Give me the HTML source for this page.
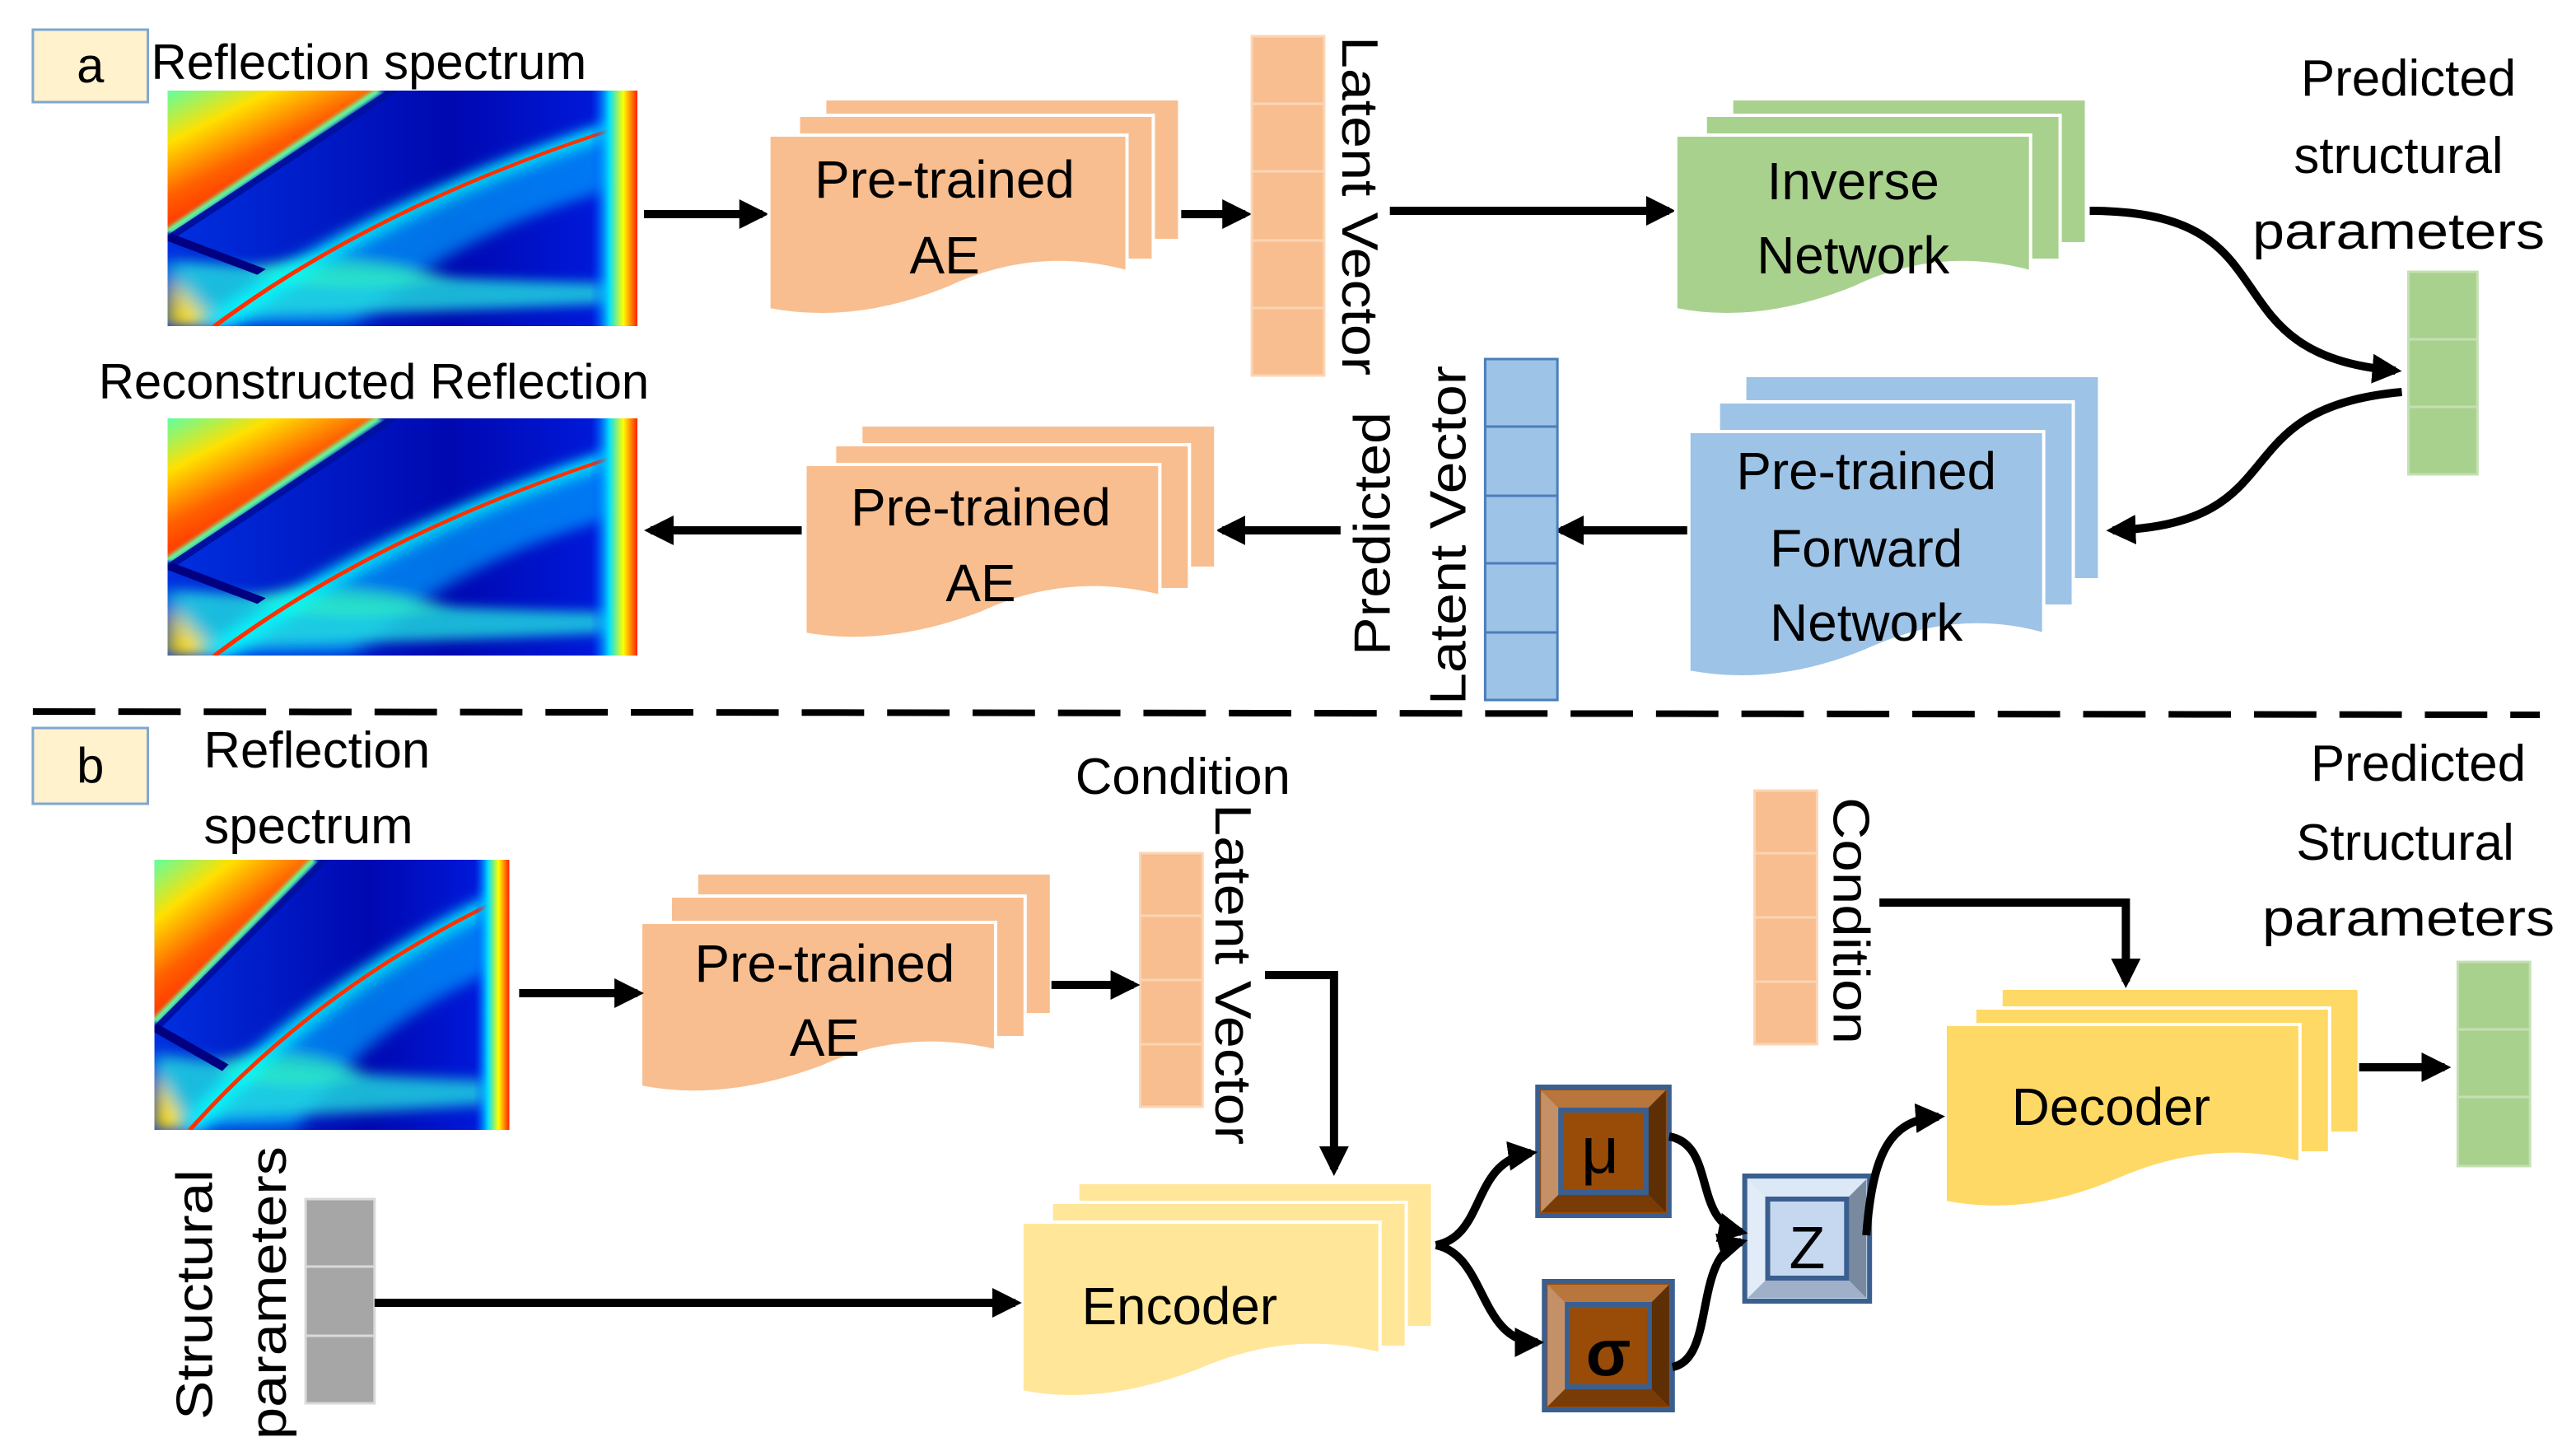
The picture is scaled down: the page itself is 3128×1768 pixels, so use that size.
<!DOCTYPE html>
<html><head><meta charset="utf-8"><style>
html,body{margin:0;padding:0;background:#fff}
svg{display:block}
text{font-family:"Liberation Sans","DejaVu Sans",sans-serif;fill:#000}
</style></head><body>
<svg width="3128" height="1768" viewBox="0 0 1568 884" preserveAspectRatio="none" xmlns="http://www.w3.org/2000/svg">
<defs>
<marker id="ah" markerWidth="20" markerHeight="20" refX="14" refY="9" orient="auto" markerUnits="userSpaceOnUse"><path d="M0,0 L18,9 L0,18 z" fill="#000"/></marker>
<filter id="bl" x="-20%" y="-20%" width="140%" height="140%"><feGaussianBlur stdDeviation="2.5"/></filter>
<filter id="bl2"><feGaussianBlur stdDeviation="0.6"/></filter>
<linearGradient id="base" x1="0" y1="0" x2="1" y2="0"><stop offset="0" stop-color="#0030e0"/><stop offset="0.6" stop-color="#0008b0"/><stop offset="0.9" stop-color="#0018d8"/><stop offset="1" stop-color="#0040ff"/></linearGradient>
<linearGradient id="hot" x1="0" y1="0" x2="0.6" y2="0.8"><stop offset="0" stop-color="#60ffa0"/><stop offset="0.3" stop-color="#ffe000"/><stop offset="0.6" stop-color="#ff6000"/><stop offset="0.9" stop-color="#ff2000"/><stop offset="1" stop-color="#ff3000"/></linearGradient>
<linearGradient id="edge" x1="0" y1="0" x2="1" y2="0"><stop offset="0" stop-color="#0040ff" stop-opacity="0"/><stop offset="0.4" stop-color="#00e0ff"/><stop offset="0.7" stop-color="#ffff00"/><stop offset="1" stop-color="#ff2000"/></linearGradient>
<symbol id="spec" viewBox="0 0 100 100" preserveAspectRatio="none">
<rect width="100" height="100" fill="url(#base)"/>
<g filter="url(#bl)">
<path d="M5,100 Q40,55 98,14 L98,40 Q60,60 40,100 z" fill="#00a0ff" opacity="0.7"/>
<path d="M0,72 Q50,80 98,82 L98,90 Q50,95 0,96 z" fill="#20e0e0" opacity="0.8"/>
<path d="M18,75 Q40,65 60,80 Q40,86 20,80z" fill="#30f0c0" opacity="0.7"/>
<path d="M0,78 L10,100 L0,100z" fill="#ffe000"/>
</g>
<polygon points="0,0 45,0 0,60" fill="url(#hot)"/>
<path d="M0,60 L45,0" stroke="#60ffa0" stroke-width="2" filter="url(#bl2)"/>
<path d="M0,63 L48,0" stroke="#0010a0" stroke-width="2"/>
<path d="M10,100 Q45,48 97,15" stroke="#00ffff" stroke-width="5" fill="none" filter="url(#bl)"/>
<path d="M10,100 Q45,48 97,15" stroke="#ff3000" stroke-width="1.3" fill="none"/>
<path d="M0,62 L20,77" stroke="#000080" stroke-width="3"/>
<rect x="90" y="0" width="10" height="100" fill="url(#edge)"/>
</symbol>
</defs>

<rect x="20" y="18" width="70" height="44" fill="#FFF2CC" stroke="#7FA7D0" stroke-width="1.5"/>
<text x="55" y="50" font-size="30" text-anchor="middle">a</text>
<text x="92" y="48" font-size="30">Reflection spectrum</text>
<use href="#spec" x="102" y="55" width="286" height="143"/>
<text x="60" y="242" font-size="30">Reconstructed Reflection</text>
<use href="#spec" x="102" y="254" width="286" height="144"/>

<g stroke="#000" stroke-width="5" fill="none">
<line x1="392" y1="130" x2="464" y2="130" marker-end="url(#ah)"/>
<line x1="716" y1="130" x2="758" y2="130" marker-end="url(#ah)"/>
<line x1="846" y1="128" x2="1016" y2="128" marker-end="url(#ah)"/>
<line x1="1028" y1="322" x2="950" y2="322" marker-end="url(#ah)"/>
<line x1="816" y1="322" x2="744" y2="322" marker-end="url(#ah)"/>
<line x1="488" y1="322" x2="396" y2="322" marker-end="url(#ah)"/>
<path d="M1272,128 C1400,128 1340,215 1458,225" marker-end="url(#ah)"/>
<path d="M1462,238 C1350,248 1400,318 1286,322" marker-end="url(#ah)"/>
</g>

<g fill="#F8BE8F" stroke="#fff" stroke-width="2">
<path d="M502,60 H718 V146 H502z"/>
<path d="M486,70 H702 V158 H486z"/>
<path d="M468,82 H686 V165 Q630,150 577,175 Q520,198 468,188 z"/>
</g>
<text x="575" y="120" font-size="32" text-anchor="middle">Pre-trained</text>
<text x="575" y="166" font-size="32" text-anchor="middle">AE</text>

<g fill="#F8BE8F" stroke="#fff" stroke-width="2">
<path d="M524,258 H740 V345 H524z"/>
<path d="M508,270 H724 V358 H508z"/>
<path d="M490,282 H706 V362 Q650,348 598,372 Q540,394 490,385 z"/>
</g>
<text x="597" y="319" font-size="32" text-anchor="middle">Pre-trained</text>
<text x="597" y="365" font-size="32" text-anchor="middle">AE</text>

<g fill="#A9D18E" stroke="#fff" stroke-width="2">
<path d="M1054,60 H1270 V148 H1054z"/>
<path d="M1038,70 H1254 V158 H1038z"/>
<path d="M1020,82 H1236 V165 Q1180,150 1128,175 Q1070,198 1020,188 z"/>
</g>
<text x="1128" y="121" font-size="32" text-anchor="middle">Inverse</text>
<text x="1128" y="166" font-size="32" text-anchor="middle">Network</text>

<g fill="#9DC3E6" stroke="#fff" stroke-width="2">
<path d="M1062,228 H1278 V352 H1062z"/>
<path d="M1046,244 H1262 V368 H1046z"/>
<path d="M1028,262 H1244 V385 Q1190,370 1136,395 Q1080,418 1028,408 z"/>
</g>
<text x="1136" y="297" font-size="32" text-anchor="middle">Pre-trained</text>
<text x="1136" y="344" font-size="32" text-anchor="middle">Forward</text>
<text x="1136" y="389" font-size="32" text-anchor="middle">Network</text>

<g stroke="#FBD5B5" stroke-width="1.5" fill="#F8BE8F">
<rect x="762" y="22" width="44" height="206"/>
<line x1="762" y1="63" x2="806" y2="63"/><line x1="762" y1="104" x2="806" y2="104"/><line x1="762" y1="146" x2="806" y2="146"/><line x1="762" y1="187" x2="806" y2="187"/>
</g>
<text transform="translate(817,22) rotate(90)" font-size="31" textLength="206" lengthAdjust="spacingAndGlyphs">Latent Vector</text>
<g stroke="#4A7EBB" stroke-width="1.5" fill="#9DC3E6">
<rect x="904" y="218" width="44" height="207"/>
<line x1="904" y1="259" x2="948" y2="259"/><line x1="904" y1="301" x2="948" y2="301"/><line x1="904" y1="342" x2="948" y2="342"/><line x1="904" y1="384" x2="948" y2="384"/>
</g>
<text transform="translate(846,398) rotate(-90)" font-size="31" textLength="148" lengthAdjust="spacingAndGlyphs">Predicted</text>
<text transform="translate(892,428) rotate(-90)" font-size="31" textLength="206" lengthAdjust="spacingAndGlyphs">Latent Vector</text>

<text x="1466" y="58" font-size="31" text-anchor="middle">Predicted</text>
<text x="1460" y="105" font-size="31" text-anchor="middle">structural</text>
<text x="1460" y="151" font-size="31" text-anchor="middle" textLength="178" lengthAdjust="spacingAndGlyphs">parameters</text>
<g stroke="#C5E0B4" stroke-width="1.5" fill="#A9D18E">
<rect x="1466" y="165" width="42" height="123"/>
<line x1="1466" y1="206" x2="1508" y2="206"/><line x1="1466" y1="247" x2="1508" y2="247"/>
</g>

<line x1="20" y1="432" x2="1546" y2="434" stroke="#000" stroke-width="4" stroke-dasharray="38,14"/>

<rect x="20" y="442" width="70" height="46" fill="#FFF2CC" stroke="#7FA7D0" stroke-width="1.5"/>
<text x="55" y="475" font-size="30" text-anchor="middle">b</text>
<text x="124" y="466" font-size="31">Reflection</text>
<text x="124" y="512" font-size="31">spectrum</text>
<use href="#spec" x="94" y="522" width="216" height="164"/>

<g fill="#F8BE8F" stroke="#fff" stroke-width="2">
<path d="M424,530 H640 V616 H424z"/>
<path d="M408,544 H624 V630 H408z"/>
<path d="M390,560 H606 V638 Q550,625 500,648 Q440,670 390,660 z"/>
</g>
<text x="502" y="596" font-size="32" text-anchor="middle">Pre-trained</text>
<text x="502" y="641" font-size="32" text-anchor="middle">AE</text>

<g stroke="#FBD5B5" stroke-width="1.5" fill="#F8BE8F">
<rect x="694" y="518" width="38" height="154"/>
<line x1="694" y1="556" x2="732" y2="556"/><line x1="694" y1="595" x2="732" y2="595"/><line x1="694" y1="634" x2="732" y2="634"/>
<rect x="1068" y="480" width="38" height="154"/>
<line x1="1068" y1="518" x2="1106" y2="518"/><line x1="1068" y1="557" x2="1106" y2="557"/><line x1="1068" y1="596" x2="1106" y2="596"/>
</g>
<text x="720" y="482" font-size="31" text-anchor="middle">Condition</text>
<text transform="translate(740,488) rotate(90)" font-size="31" textLength="207" lengthAdjust="spacingAndGlyphs">Latent Vector</text>
<text transform="translate(1116,484) rotate(90)" font-size="31" textLength="150" lengthAdjust="spacingAndGlyphs">Condition</text>

<g fill="#FFE699" stroke="#fff" stroke-width="2">
<path d="M656,718 H872 V806 H656z"/>
<path d="M640,730 H856 V818 H640z"/>
<path d="M622,742 H840 V822 Q785,808 730,832 Q670,855 622,845 z"/>
</g>
<text x="718" y="804" font-size="32" text-anchor="middle">Encoder</text>

<g fill="#FFD966" stroke="#fff" stroke-width="2">
<path d="M1218,600 H1436 V688 H1218z"/>
<path d="M1202,612 H1418 V700 H1202z"/>
<path d="M1184,622 H1400 V706 Q1345,692 1290,716 Q1235,740 1184,730 z"/>
</g>
<text x="1285" y="683" font-size="32" text-anchor="middle">Decoder</text>

<g stroke="#D9D9D9" stroke-width="1.5" fill="#A6A6A6">
<rect x="186" y="728" width="42" height="124"/>
<line x1="186" y1="769" x2="228" y2="769"/><line x1="186" y1="811" x2="228" y2="811"/>
</g>
<text transform="translate(129,862) rotate(-90)" font-size="31" textLength="152" lengthAdjust="spacingAndGlyphs">Structural</text>
<text transform="translate(174,874) rotate(-90)" font-size="31" textLength="178" lengthAdjust="spacingAndGlyphs">parameters</text>

<text x="1472" y="474" font-size="31" text-anchor="middle">Predicted</text>
<text x="1464" y="522" font-size="31" text-anchor="middle">Structural</text>
<text x="1466" y="568" font-size="31" text-anchor="middle" textLength="178" lengthAdjust="spacingAndGlyphs">parameters</text>
<g stroke="#C5E0B4" stroke-width="1.5" fill="#A9D18E">
<rect x="1496" y="584" width="44" height="124"/>
<line x1="1496" y1="625" x2="1540" y2="625"/><line x1="1496" y1="666" x2="1540" y2="666"/>
</g>

<g stroke="#3A5F8F" stroke-width="3">
<rect x="936" y="660" width="80" height="78" fill="#994C08"/>
<polygon points="938,662 1014,662 1002,674 950,674" fill="#B8763C" stroke="none"/>
<polygon points="938,662 950,674 950,724 938,736" fill="#C49068" stroke="none"/>
<polygon points="1014,662 1002,674 1002,724 1014,736" fill="#5E2E04" stroke="none"/>
<polygon points="938,736 950,724 1002,724 1014,736" fill="#7A3C06" stroke="none"/>
<rect x="950" y="674" width="52" height="50" fill="#994C08"/>
<rect x="940" y="778" width="78" height="78" fill="#994C08"/>
<polygon points="942,780 1016,780 1004,792 954,792" fill="#B8763C" stroke="none"/>
<polygon points="942,780 954,792 954,842 942,854" fill="#C49068" stroke="none"/>
<polygon points="1016,780 1004,792 1004,842 1016,854" fill="#5E2E04" stroke="none"/>
<polygon points="942,854 954,842 1004,842 1016,854" fill="#7A3C06" stroke="none"/>
<rect x="954" y="792" width="50" height="50" fill="#994C08"/>
<rect x="1062" y="714" width="76" height="76" fill="#C5D8EF"/>
<polygon points="1064,716 1136,716 1124,728 1076,728" fill="#DDE8F6" stroke="none"/>
<polygon points="1064,716 1076,728 1076,776 1064,788" fill="#E2ECF8" stroke="none"/>
<polygon points="1136,716 1124,728 1124,776 1136,788" fill="#7A8A9E" stroke="none"/>
<polygon points="1064,788 1076,776 1124,776 1136,788" fill="#9FB0C8" stroke="none"/>
<rect x="1076" y="728" width="48" height="48" fill="#C5D8EF"/>
</g>
<text x="974" y="712" font-size="40" text-anchor="middle">μ</text>
<text x="979" y="835" font-size="40" font-weight="bold" text-anchor="middle">σ</text>
<text x="1100" y="770" font-size="36" text-anchor="middle">Z</text>

<g stroke="#000" stroke-width="5" fill="none">
<line x1="316" y1="603" x2="388" y2="603" marker-end="url(#ah)"/>
<line x1="640" y1="598" x2="690" y2="598" marker-end="url(#ah)"/>
<path d="M770,592 H812 V710" marker-end="url(#ah)"/>
<line x1="228" y1="791" x2="618" y2="791" marker-end="url(#ah)"/>
<path d="M1144,548 H1294 V596" marker-end="url(#ah)"/>
<line x1="1436" y1="648" x2="1488" y2="648" marker-end="url(#ah)"/>
<path d="M874,756 C905,750 895,705 932,700" marker-end="url(#ah)"/>
<path d="M874,756 C905,762 900,815 936,815" marker-end="url(#ah)"/>
<path d="M1016,690 C1045,695 1030,742 1060,748" marker-end="url(#ah)"/>
<path d="M1018,830 C1045,825 1030,762 1060,754" marker-end="url(#ah)"/>
<path d="M1136,750 C1140,700 1150,680 1180,678" marker-end="url(#ah)"/>
</g>
</svg>
</body></html>
